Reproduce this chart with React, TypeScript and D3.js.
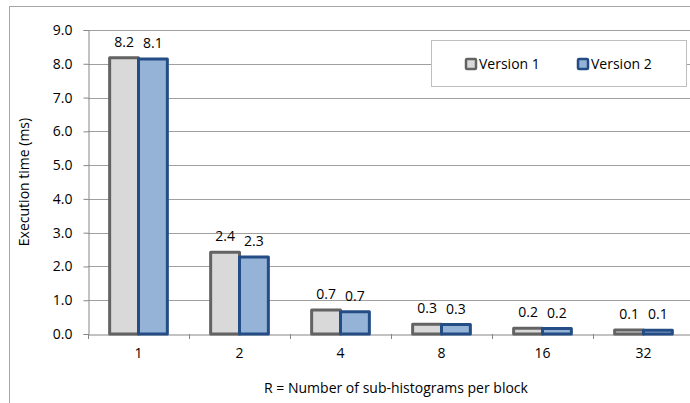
import React, { useEffect, useRef } from 'react';
import * as d3 from 'd3';

const categories = ['1', '2', '4', '8', '16', '32'];
const seriesNames = ['Version 1', 'Version 2'];
const version1 = [8.18, 2.42, 0.71, 0.29, 0.17, 0.12];
const version2 = [8.14, 2.28, 0.66, 0.28, 0.16, 0.11];
const yTicks = [0, 1, 2, 3, 4, 5, 6, 7, 8, 9];

const fills = ['#d9d9d9', '#95b3d7'];
const strokes = ['#636363', '#244d85'];

const W = 690;
const H = 403;
const FONT = '"Open Sans", sans-serif';
const FS = 14;

const App: React.FC = () => {
  const svgRef = useRef<SVGSVGElement>(null);

  useEffect(() => {
    if (!svgRef.current) return;
    const svg = d3.select(svgRef.current);
    svg.selectAll('*').remove();

    const left = 88, top = 30, bottom = 334, right = 694;

    const x = d3.scaleBand<string>().domain(categories).range([left, right]).padding(0);
    const xs = d3.scaleBand<string>().domain(seriesNames).range([0, x.bandwidth()])
      .paddingInner(0).paddingOuter(0.75);
    const y = d3.scaleLinear().domain([0, 9]).range([bottom, top]);

    // outer chart border (cropped at right)
    svg.append('rect')
      .attr('x', 9.5).attr('y', 6.5).attr('width', 800).attr('height', 500)
      .attr('fill', 'white').attr('stroke', '#a6a6a6');

    // gridlines
    svg.append('g').selectAll('line').data(yTicks.slice(1)).join('line')
      .attr('x1', left).attr('x2', right)
      .attr('y1', d => Math.round(y(d)) + 0.5).attr('y2', d => Math.round(y(d)) + 0.5)
      .attr('stroke', '#a0a0a0').attr('stroke-width', 1);

    // y axis
    const yAxis = svg.append('g').attr('transform', `translate(${left + 0.5},0)`)
      .call(d3.axisLeft(y).tickValues(yTicks).tickSize(5).tickPadding(11).tickFormat(d3.format('.1f')));
    yAxis.select('.domain').attr('stroke', '#868686');
    yAxis.selectAll('.tick line').attr('stroke', '#868686');
    yAxis.selectAll('text').attr('font-family', FONT).attr('font-size', FS).attr('fill', '#000');

    // x axis
    const xAxis = svg.append('g').attr('transform', `translate(0,${bottom + 0.5})`)
      .call(d3.axisBottom(x).tickSize(0).tickPadding(14));
    xAxis.select('.domain').attr('stroke', '#868686');
    xAxis.selectAll('text').attr('font-family', FONT).attr('font-size', FS).attr('fill', '#000');
    svg.append('g').selectAll('line').data(categories).join('line')
      .attr('x1', d => Math.round(x(d)!) + 0.5).attr('x2', d => Math.round(x(d)!) + 0.5)
      .attr('y1', bottom).attr('y2', bottom + 5)
      .attr('stroke', '#868686');

    // bars
    const data = [version1, version2];
    data.forEach((vals, si) => {
      const g = svg.append('g');
      g.selectAll('rect').data(vals).join('rect')
        .attr('x', (_, i) => x(categories[i])! + xs(seriesNames[si])!)
        .attr('y', d => y(d))
        .attr('width', xs.bandwidth())
        .attr('height', d => bottom - y(d))
        .attr('fill', fills[si])
        .attr('stroke', strokes[si])
        .attr('stroke-width', 3)
        .attr('stroke-linejoin', 'round');
      g.selectAll('text').data(vals).join('text')
        .attr('x', (_, i) => x(categories[i])! + xs(seriesNames[si])! + xs.bandwidth() / 2)
        .attr('y', d => y(d) - 11)
        .attr('text-anchor', 'middle')
        .attr('font-family', FONT).attr('font-size', FS)
        .text(d => d.toFixed(1));
    });

    // axis titles
    svg.append('text')
      .attr('transform', `translate(29,${(top + bottom) / 2}) rotate(-90)`)
      .attr('text-anchor', 'middle')
      .attr('font-family', FONT).attr('font-size', FS)
      .text('Execution time (ms)');
    svg.append('text')
      .attr('x', 396).attr('y', 393)
      .attr('text-anchor', 'middle')
      .attr('font-family', FONT).attr('font-size', FS)
      .text('R = Number of sub-histograms per block');

    // legend
    const lg = svg.append('g');
    lg.append('rect').attr('x', 431.5).attr('y', 40.5).attr('width', 255).attr('height', 46)
      .attr('fill', 'white').attr('stroke', '#bfbfbf');
    const legendX = [466, 578];
    seriesNames.forEach((name, i) => {
      lg.append('rect').attr('x', legendX[i]).attr('y', 59).attr('width', 10).attr('height', 10)
        .attr('fill', fills[i]).attr('stroke', strokes[i]).attr('stroke-width', 2.5).attr('rx', 1);
      lg.append('text').attr('x', legendX[i] + 13).attr('y', 69)
        .attr('font-family', FONT).attr('font-size', FS)
        .text(name);
    });
  }, []);

  return (
    <div style={{ position: 'fixed', left: 0, top: 0, width: W, height: H, background: 'white' }}>
      <svg ref={svgRef} width={W} height={H} style={{ display: 'block' }} />
    </div>
  );
};

export default App;
